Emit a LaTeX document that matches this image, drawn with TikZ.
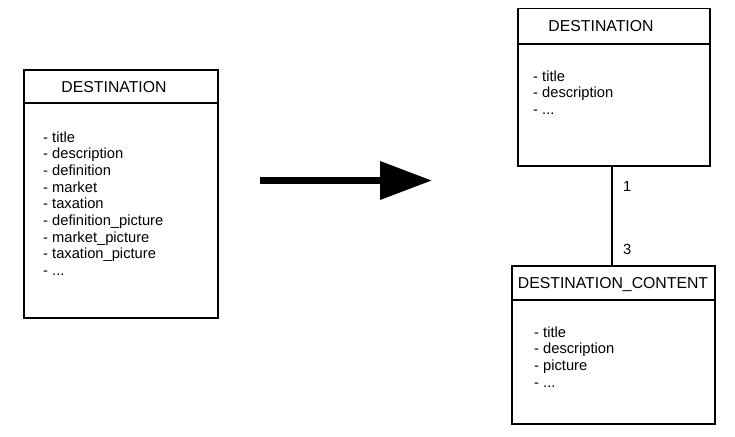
\documentclass[tikz,border=0pt]{standalone}
\usepackage{fontspec}
\setmainfont{Liberation Sans}
\usetikzlibrary{arrows.meta}
\begin{document}
\begin{tikzpicture}[x=1pt,y=-1pt,
  box/.style={draw, line width=1.5pt, inner sep=0pt, anchor=north west},
  divider/.style={line width=1.5pt},
  ttl/.style={font=\fontsize{15.8}{18}\selectfont, anchor=base, inner sep=0pt},
  body/.style={font=\fontsize{14.7}{16.7}\selectfont, anchor=base west, align=left, inner sep=0pt},
  lbl/.style={font=\fontsize{14.7}{16.7}\selectfont, anchor=base west, inner sep=0pt}]
\fill[white] (0,0) rectangle (735,436);
\useasboundingbox (0,0) rectangle (735,436);
% left box
\node[box, minimum width=194pt, minimum height=248pt] (b1) at (23,69) {};
\draw[divider] (23,103) coordinate (d1a) -- (217,103) coordinate (d1b);
\node[ttl] (t1) at (114,92) {DESTINATION};
\node[body] (a1) at (43,275.6) {- title\\- description\\- definition\\- market\\- taxation\\- definition\_picture\\- market\_picture\\- taxation\_picture\\- ...};
% right top box
\node[box, minimum width=192pt, minimum height=157pt] (b2) at (517,8) {};
\draw[divider] (517,44) coordinate (d2a) -- (709,44) coordinate (d2b);
\node[ttl] (t2) at (601,32) {DESTINATION};
\node[body] (a2) at (533,114.4) {- title\\- description\\- ...};
% right bottom box
\node[box, minimum width=203pt, minimum height=158pt] (b3) at (511,265) {};
\draw[divider] (511,300) coordinate (d3a) -- (714,300) coordinate (d3b);
\node[ttl] (t3) at (613,288) {DESTINATION\_CONTENT};
\node[body] (a3) at (534,387.1) {- title\\- description\\- picture\\- ...};
% connector
\draw[line width=1.5pt] (b2.south -| 612,0) -- (b3.north -| 612,0);
\node[lbl] (m1) at (623,191) {1};
\node[lbl] (m3) at (623,254) {3};
% big arrow
\coordinate (as) at (260,180.5);
\coordinate (ae) at (432,180.5);
\draw[line width=7pt, -{Triangle[length=52pt,width=37pt]}] (as) -- (ae);
\end{tikzpicture}
\end{document}
